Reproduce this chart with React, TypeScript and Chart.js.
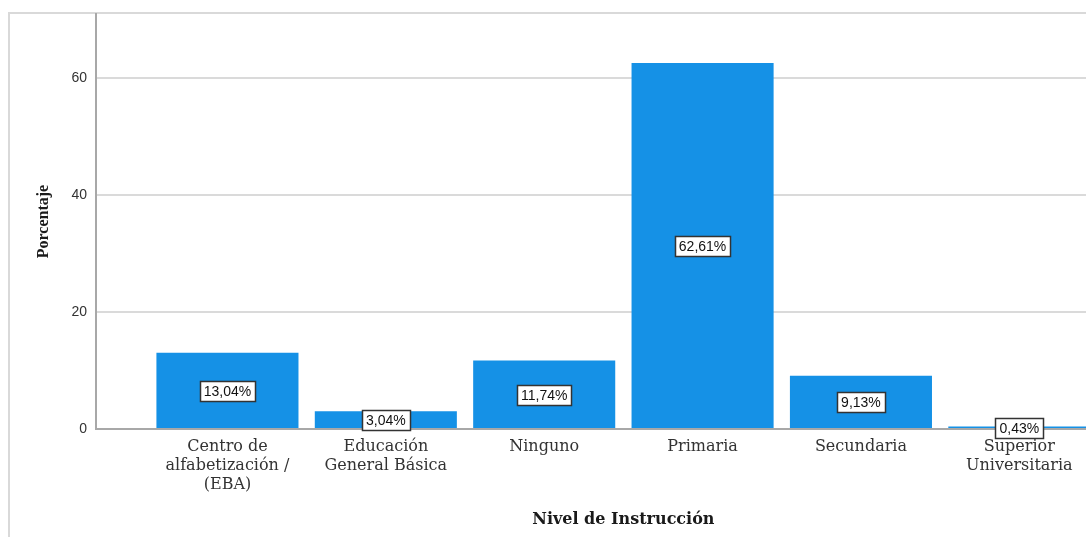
import React, { useEffect, useRef } from "react";
import { Chart, registerables } from "chart.js";

Chart.register(...registerables);

const categories: string[][] = [
  ["Centro de", "alfabetización /", "(EBA)"],
  ["Educación", "General Básica"],
  ["Ninguno"],
  ["Primaria"],
  ["Secundaria"],
  ["Superior", "Universitaria"],
];
const percentages: number[] = [13.04, 3.04, 11.74, 62.61, 9.13, 0.43];
const yTicks: number[] = [0, 20, 40, 60];
const yTitle = "Porcentaje";
const xTitle = "Nivel de Instrucción";

const W = 1086;
const H = 537;

const framePlugin = {
  id: "frame",
  beforeDraw(chart: any) {
    const ctx = chart.ctx;
    ctx.save();
    ctx.strokeStyle = "#d9d9d9";
    ctx.lineWidth = 2;
    ctx.beginPath();
    ctx.moveTo(9, H);
    ctx.lineTo(9, 13);
    ctx.lineTo(W, 13);
    ctx.stroke();
    ctx.restore();
  },
};

const labelPlugin = {
  id: "boxLabels",
  afterDatasetsDraw(chart: any) {
    const ctx = chart.ctx;
    const meta = chart.getDatasetMeta(0);
    const yScale = chart.scales.y;
    ctx.save();
    ctx.font = "14px 'Liberation Sans', Arial, sans-serif";
    ctx.textAlign = "center";
    ctx.textBaseline = "middle";
    meta.data.forEach((bar: any, i: number) => {
      const v = percentages[i];
      const text = v.toFixed(2).replace(".", ",") + "%";
      const cx = bar.x;
      const cy = yScale.getPixelForValue(v / 2);
      const tw = ctx.measureText(text).width;
      const bw = Math.round(tw + 8);
      const bh = 20;
      const x0 = Math.round(cx - bw / 2) + 0.5;
      const y0 = Math.round(cy - bh / 2) + 0.5;
      ctx.fillStyle = "#ffffff";
      ctx.fillRect(x0, y0, bw, bh);
      ctx.strokeStyle = "#333333";
      ctx.lineWidth = 1.5;
      ctx.strokeRect(x0, y0, bw, bh);
      ctx.fillStyle = "#111111";
      ctx.fillText(text, cx, y0 + bh / 2 + 0.5);
    });
    ctx.restore();
  },
};

const xTitlePlugin = {
  id: "xTitle",
  afterDraw(chart: any) {
    const ctx = chart.ctx;
    const xs = chart.scales.x;
    ctx.save();
    ctx.font = "bold 16px 'DejaVu Serif', serif";
    ctx.fillStyle = "#1a1a1a";
    ctx.textAlign = "center";
    ctx.textBaseline = "middle";
    ctx.fillText(xTitle, xs.getPixelForValue((categories.length - 1) / 2), 520);
    ctx.restore();
  },
};

export default function App() {
  const ref = useRef<HTMLCanvasElement | null>(null);

  useEffect(() => {
    if (!ref.current) return;
    const chart = new Chart(ref.current, {
      type: "bar",
      data: {
        datasets: [
          {
            data: percentages.map((v, i) => ({ x: i, y: v })),
            backgroundColor: "#1591e6",
            borderWidth: 0,
            barPercentage: 0.897,
            categoryPercentage: 1,
          },
        ],
      },
      options: {
        animation: false,
        responsive: false,
        layout: { padding: { left: 0, right: 0, top: 14, bottom: 0 } },
        plugins: {
          legend: { display: false },
          tooltip: { enabled: false },
        },
        scales: {
          x: {
            type: "linear",
            offset: false,
            min: -0.83,
            max: 5.421,
            grid: { display: false, drawTicks: false, offset: false },
            border: { display: true, color: "#a8a8a8", width: 2 },
            afterBuildTicks: (scale: any) => {
              scale.ticks = categories.map((_, i) => ({ value: i }));
            },
            afterFit: (scale: any) => {
              scale.height = 108;
              scale.paddingLeft = 0;
              scale.paddingRight = 0;
            },
            ticks: {
              autoSkip: false,
              maxRotation: 0,
              minRotation: 0,
              padding: 8,
              color: "#333333",
              font: { family: "'DejaVu Serif', serif", size: 16, lineHeight: "19px" },
              callback: (value: any) => categories[Math.round(Number(value))] ?? "",
            },
          },
          y: {
            type: "linear",
            min: 0,
            max: 71,
            grid: { color: "#dadada", lineWidth: 2, drawTicks: false },
            border: { display: true, color: "#a8a8a8", width: 2 },
            afterBuildTicks: (scale: any) => {
              scale.ticks = yTicks.map((v) => ({ value: v }));
            },
            afterFit: (scale: any) => {
              scale.width = 96;
              scale.paddingTop = 0;
              scale.paddingBottom = 0;
            },
            ticks: {
              padding: 9,
              color: "#333333",
              font: { family: "'Liberation Sans', Arial, sans-serif", size: 14 },
            },
            title: {
              display: true,
              text: yTitle,
              color: "#1a1a1a",
              padding: { top: 34, bottom: 0 },
              font: { family: "'Liberation Serif', serif", size: 16, weight: "bold" },
            },
          },
        },
      },
      plugins: [framePlugin, labelPlugin, xTitlePlugin],
    });
    return () => chart.destroy();
  }, []);

  return (
    <div style={{ position: "fixed", left: 0, top: 0, width: W, height: H, background: "#fff", overflow: "hidden" }}>
      <canvas ref={ref} width={W} height={H} style={{ display: "block", width: W, height: H }} />
    </div>
  );
}
